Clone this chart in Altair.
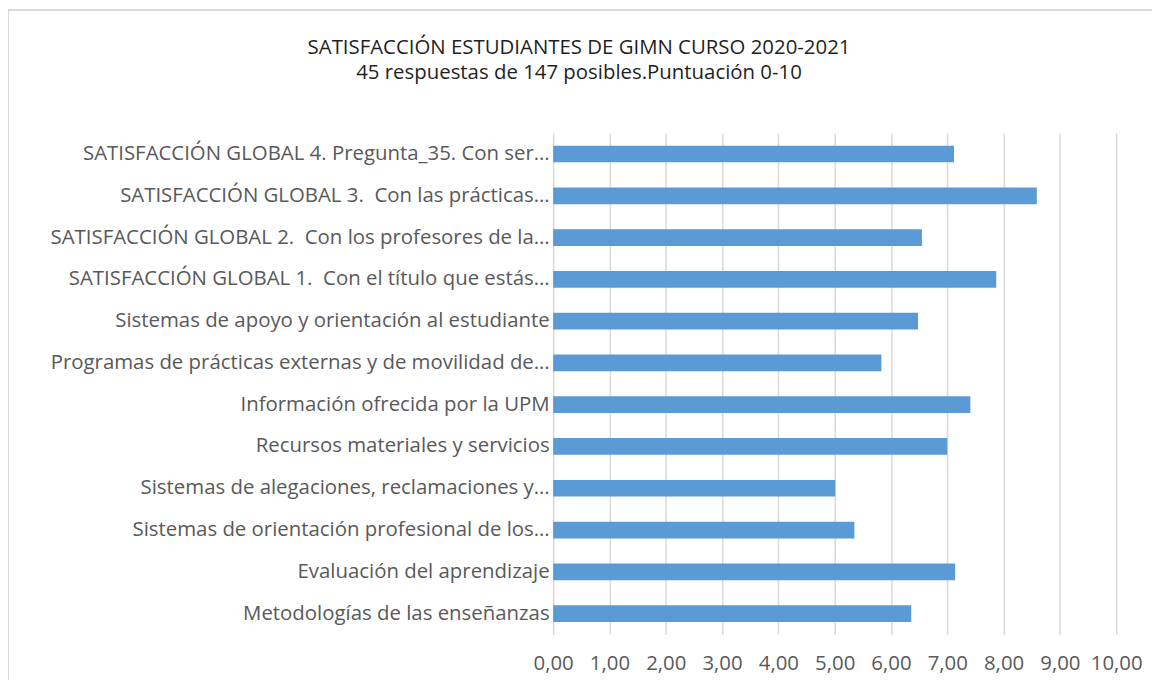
import altair as alt
import pandas as pd

NB = "\u00a0"
categories = [
    "SATISFACCIÓN GLOBAL 4. Pregunta_35. Con ser…",
    "SATISFACCIÓN GLOBAL 3. " + NB + "Con las prácticas…",
    "SATISFACCIÓN GLOBAL 2. " + NB + "Con los profesores de la…",
    "SATISFACCIÓN GLOBAL 1. " + NB + "Con el título que estás…",
    "Sistemas de apoyo y orientación al estudiante" + NB,
    "Programas de prácticas externas y de movilidad de…",
    "Información ofrecida por la UPM" + NB,
    "Recursos materiales y servicios" + NB,
    "Sistemas de alegaciones, reclamaciones y…",
    "Sistemas de orientación profesional de los…",
    "Evaluación del aprendizaje" + NB,
    "Metodologías de las enseñanzas" + NB,
]
values = [7.12, 8.59, 6.55, 7.87, 6.48, 5.83, 7.41, 7.00, 5.01, 5.35, 7.14, 6.36]
x_ticks = [0, 1, 2, 3, 4, 5, 6, 7, 8, 9, 10]

df = pd.DataFrame({"item": categories, "score": values})

FONT = "Open Sans"

bars = alt.Chart(df).mark_bar(color="#5b9bd5").encode(
    x=alt.X(
        "score:Q",
        scale=alt.Scale(domain=[0, 10], nice=False),
        axis=alt.Axis(
            values=x_ticks,
            title=None,
            labelExpr="replace(format(datum.value, '.2f'), '.', ',')",
            labelFontSize=20.5,
            labelColor="#595959",
            labelFont=FONT,
            labelPadding=19,
            labelOverlap=False,
            labelFlush=False,
            domain=False,
            ticks=False,
            grid=True,
            gridColor="#d9d9d9",
            gridWidth=1.5,
        ),
    ),
    y=alt.Y(
        "item:N",
        sort=categories,
        scale=alt.Scale(paddingInner=0.6, paddingOuter=0.3),
        axis=alt.Axis(
            title=None,
            labelFontSize=20.5,
            labelColor="#595959",
            labelFont=FONT,
            labelPadding=4,
            labelLimit=600,
            domain=False,
            ticks=False,
            grid=False,
        ),
    ),
)

border = alt.Chart(df).mark_rect(fill=None, stroke="#d9d9d9", strokeWidth=1).encode(
    x=alt.value(-548), x2=alt.value(650), y=alt.value(-124), y2=alt.value(600)
)

chart = alt.layer(border, bars).properties(
    width=566,
    height=504,
    padding={"left": 548, "top": 124, "right": 36, "bottom": 44},
    autosize=alt.AutoSizeParams(type="none"),
    title=alt.TitleParams(
        text=["SATISFACCIÓN ESTUDIANTES DE GIMN CURSO 2020-2021",
              "45 respuestas de 147 posibles.Puntuación 0-10"],
        font=FONT,
        fontSize=20.5,
        fontWeight="normal",
        color="#1f1f1f",
        anchor="middle",
        frame="group",
        dx=-257,
        offset=-75,
        lineHeight=26,
    ),
).configure_view(strokeWidth=0, stroke="transparent")

chart.save("out.html", embed_options={"renderer": "svg", "actions": False})
